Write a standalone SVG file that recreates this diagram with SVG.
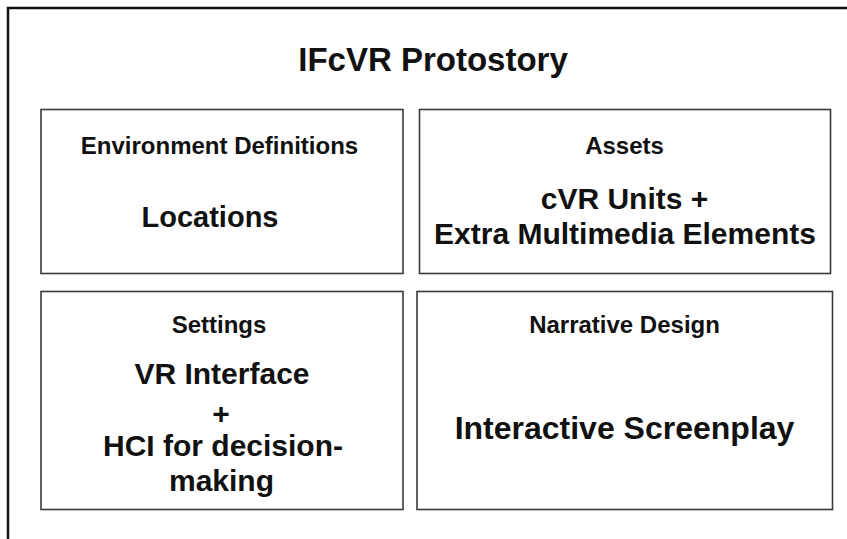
<svg xmlns="http://www.w3.org/2000/svg" width="847" height="539" viewBox="0 0 847 539">
<style>
.frame{fill:none;stroke:#111;stroke-width:2.5}
.box{fill:#fff;stroke:#3a3a3a;stroke-width:1.6}
text{font-family:"Liberation Sans",Arial,Helvetica,sans-serif;font-weight:bold;fill:#111;text-anchor:middle}
.title{font-size:33px}
.sub{font-size:24px}
.main{font-size:30px}
.big{font-size:32px}
</style>
<rect width="847" height="539" fill="#fff"/>
<path class="frame" d="M8,539 V8 H847"/>
<g id="title"><text class="title" x="433" y="71">IFcVR Protostory</text></g>
<g id="environment">
<rect class="box" x="41" y="109.5" width="362" height="164"/>
<text class="sub" x="219.5" y="154">Environment Definitions</text>
<text class="main" x="210" y="227" style="font-size:29px">Locations</text>
</g>
<g id="assets">
<rect class="box" x="419.5" y="109.5" width="411" height="164"/>
<text class="sub" x="624.5" y="153.5">Assets</text>
<text class="main" x="624.5" y="208.5">cVR Units +</text>
<text class="main" x="625" y="243.5">Extra Multimedia Elements</text>
</g>
<g id="settings">
<rect class="box" x="41" y="291.5" width="362" height="218"/>
<text class="sub" x="219" y="332.5">Settings</text>
<text class="main" x="222" y="383.5">VR Interface</text>
<text class="main" x="221" y="423.5">+</text>
<text class="main" x="223" y="456">HCI for decision-</text>
<text class="main" x="221.5" y="490.5">making</text>
</g>
<g id="narrative">
<rect class="box" x="417" y="291.5" width="415.5" height="218"/>
<text class="sub" x="624.5" y="332.5">Narrative Design</text>
<text class="big" x="624.5" y="438.5">Interactive Screenplay</text>
</g>
<g id="connectors"/>
</svg>
